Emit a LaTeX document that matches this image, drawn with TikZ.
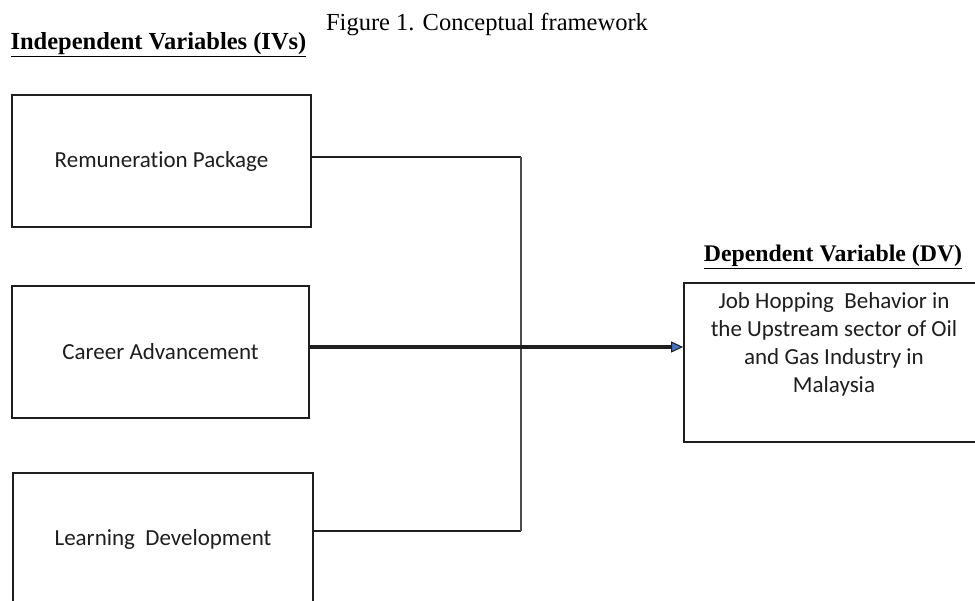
\documentclass[tikz,border=0pt]{standalone}
\usepackage{fontspec}
\setmainfont{Liberation Serif}
\newfontfamily\boxfont[Ligatures=NoCommon]{Carlito}
\usetikzlibrary{arrows.meta}
\definecolor{arrowblue}{HTML}{4472C4}
\definecolor{inkgray}{HTML}{1E1E1E}
\begin{document}
\begin{tikzpicture}[x=1pt,y=-1pt,
  varbox/.style={draw=inkgray,line width=1.8pt,rectangle,inner sep=0pt,
    font=\boxfont\fontsize{23}{28}\selectfont,text=inkgray,align=center},
  heading/.style={inner sep=0pt,anchor=base,font=\bfseries\fontsize{24.5}{28}\selectfont},
  thinlink/.style={draw=inkgray,line width=1.6pt},
  vlink/.style={draw=black!70,line width=2.4pt},
  mainarrow/.style={draw=inkgray,line width=3.4pt,
    -{Triangle[length=12pt,width=11pt,fill=arrowblue,line width=1pt]}}]
\useasboundingbox (0,0) rectangle (975,601);
\fill[white] (0,0) rectangle (975,601);
% title and headings
\node[inner sep=0pt,anchor=base,font=\fontsize{24.5}{28}\selectfont] (title) at (487,31) {Figure 1. Conceptual framework};
\node[heading] (ivhead) at (158.5,50) {\underline{Independent Variables (IVs)}};
\node[heading,font=\bfseries\fontsize{23.8}{28}\selectfont] (dvhead) at (833,262) {\underline{Dependent Variable (DV)}};
% boxes
\node[varbox,minimum width=299pt,minimum height=132pt] (box1) at (161.5,161) {Remuneration Package};
\node[varbox,minimum width=297pt,minimum height=132pt] (box2) at (160.5,352) {Career Advancement};
\node[varbox,minimum width=300pt,minimum height=132pt] (box3) at (163,539) {Learning\ \ Development};
\node[varbox,minimum width=294pt,minimum height=159pt] (dv) at (831,362.5) {};
\node[inner sep=0pt,anchor=north,align=center,text=inkgray,font=\boxfont\fontsize{23}{28}\selectfont] (dvtext) at (834,292) {Job Hopping\ \ Behavior in\\the Upstream sector of Oil\\and Gas Industry\ in\\Malaysia};
% connector junctions
\coordinate (j1) at (521,157);
\coordinate (j3) at (521,531);
\coordinate (ay) at (0,347);
\draw[thinlink] (box1.east |- j1) -- (j1);
\draw[thinlink] (box3.east |- j3) -- (j3);
\draw[vlink] (j1) -- (j3);
\draw[mainarrow] (box2.east |- ay) -- (dv.west |- ay);
\end{tikzpicture}
\end{document}
